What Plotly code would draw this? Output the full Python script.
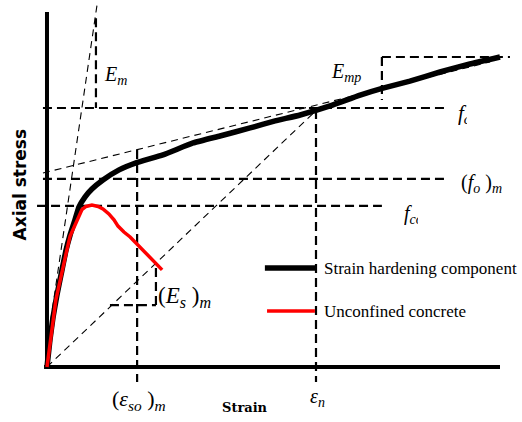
import plotly.graph_objects as go

# ---- data (strain normalised to eps_n = 1, stress normalised to f_o = 1) ----
hard_strain = [0, 0.011, 0.022, 0.037, 0.052, 0.071, 0.086, 0.104, 0.119, 0.141, 0.167,
               0.208, 0.268, 0.331, 0.431, 0.543, 0.643, 0.755, 0.848, 0.941, 1.052,
               1.164, 1.249, 1.349, 1.461, 1.572, 1.684]
hard_stress = [0, 0.104, 0.189, 0.278, 0.355, 0.452, 0.510, 0.568, 0.618, 0.656, 0.687,
               0.722, 0.761, 0.788, 0.819, 0.865, 0.892, 0.923, 0.950, 0.973, 1.008,
               1.050, 1.077, 1.104, 1.139, 1.170, 1.197]

unc_strain = [0, 0.011, 0.022, 0.033, 0.041, 0.052, 0.063, 0.074, 0.086, 0.100, 0.115,
              0.130, 0.145, 0.167, 0.190, 0.208, 0.230, 0.249, 0.264, 0.286, 0.309,
              0.335, 0.357, 0.383, 0.405, 0.428]
unc_stress = [0, 0.085, 0.181, 0.259, 0.297, 0.344, 0.394, 0.452, 0.506, 0.537, 0.575,
              0.608, 0.620, 0.625, 0.620, 0.610, 0.591, 0.568, 0.544, 0.521, 0.502,
              0.475, 0.452, 0.425, 0.402, 0.375]

# key levels
eps_n = 1.0
eps_so_m = 0.335
f_o = 1.0
f_o_m = 0.726
f_co = 0.622

# guide lines (x pair, y pair)
thick_guides = {
    "Em_vert":  ([0.182, 0.182], [1.347, f_o]),
    "fo_h":     ([-0.015, 1.480], [f_o, f_o]),
    "Emp_h":    ([1.245, 1.721], [1.197, 1.197]),
    "Emp_v":    ([1.245, 1.245], [1.197, 1.031]),
    "epsn_v":   ([eps_n, eps_n], [0.992, -0.058]),
    "fom_h":    ([-0.015, 1.480], [f_o_m, f_o_m]),
    "fco_h":    ([-0.037, 1.245], [f_co, f_co]),
    "epsso_v":  ([eps_so_m, eps_so_m], [0.838, -0.058]),
    "Es_v":     ([0.405, 0.405], [0.382, 0.239]),
    "Es_h":     ([0.234, 0.405], [0.239, 0.239]),
}
thin_guides = {
    "Em_tan":   ([0.007, 0.186], [0.131, 1.398]),
    "Emp_tan":  ([-0.015, 1.647], [0.749, 1.178]),
    "secant":   ([0, eps_n], [0, 0.99]),
}
axis_x = ([-0.011, 1.684], [0, 0])
axis_y = ([0, 0], [0, 1.371])

legend_black = ([0.810, 1.0], [0.382, 0.382])
legend_red = ([0.818, 0.996], [0.216, 0.216])

fig = go.Figure()

for name, (xs, ys) in thick_guides.items():
    fig.add_trace(go.Scatter(x=xs, y=ys, mode="lines",
                             line=dict(color="black", width=2.2, dash="9px,5px")))
for name, (xs, ys) in thin_guides.items():
    fig.add_trace(go.Scatter(x=xs, y=ys, mode="lines",
                             line=dict(color="black", width=1.1, dash="7px,5px")))

fig.add_trace(go.Scatter(x=axis_x[0], y=axis_x[1], mode="lines",
                         line=dict(color="black", width=4)))
fig.add_trace(go.Scatter(x=axis_y[0], y=axis_y[1], mode="lines",
                         line=dict(color="black", width=4)))

fig.add_trace(go.Scatter(x=hard_strain, y=hard_stress, mode="lines",
                         line=dict(color="black", width=5.5, shape="spline", smoothing=0.4)))
fig.add_trace(go.Scatter(x=unc_strain, y=unc_stress, mode="lines",
                         line=dict(color="red", width=3.5)))

fig.add_trace(go.Scatter(x=legend_black[0], y=legend_black[1], mode="lines",
                         line=dict(color="black", width=5.5)))
fig.add_trace(go.Scatter(x=legend_red[0], y=legend_red[1], mode="lines",
                         line=dict(color="red", width=3.5)))

serif = "Liberation Serif"

def ann(x, y, text, size, xanchor="left", **kw):
    fig.add_annotation(x=x, y=y, xref="x", yref="y", text=text, showarrow=False,
                       xanchor=xanchor, yanchor="middle",
                       font=dict(family=kw.pop("family", serif), size=size, color="black"),
                       **kw)

ann(0.205, 1.127, "<i>E</i><sub><i>m</i></sub>", 20)
ann(1.050, 1.139, "<i>E</i><sub><i>mp</i></sub>", 20)
ann(1.520, 0.975, "<i>f</i><sub><i>cc</i></sub>", 21, width=9, align="left")
ann(1.530, 0.707, "(<i>f</i><sub><i>o</i></sub> )<sub><i>m</i></sub>", 20)
ann(1.318, 0.590, "<i>f</i><sub><i>co</i></sub>", 20, width=14, align="left")
ann(0.406, 0.270, "(<i>E</i><sub><i>s</i></sub> )<sub><i>m</i></sub>", 23)
ann(0.236, -0.127, "(<i>ε</i><sub><i>so</i></sub> )<sub><i>m</i></sub>", 22)
ann(0.972, -0.118, "<i>ε</i><sub><i>n</i></sub>", 20)
ann(0.736, -0.158, "<b>Strain</b>", 13, xanchor="center", family="DejaVu Serif")
ann(-0.100, 0.705, "<b>Axial stress</b>", 17, xanchor="center",
    family="DejaVu Sans", textangle=-90)
ann(1.022, 0.382, "Strain hardening component", 17)
ann(1.022, 0.216, "Unconfined concrete", 17)

fig.update_layout(
    width=522, height=422, autosize=False,
    margin=dict(l=0, r=0, t=0, b=0, pad=0),
    paper_bgcolor="white", plot_bgcolor="white",
    showlegend=False,
    xaxis=dict(range=[-0.1747, 1.7658], visible=False, fixedrange=True),
    yaxis=dict(range=[-0.2124, 1.4170], visible=False, fixedrange=True),
)

fig.write_html("out.html", config={"displayModeBar": False},
               post_script="document.body.style.margin='0';")
